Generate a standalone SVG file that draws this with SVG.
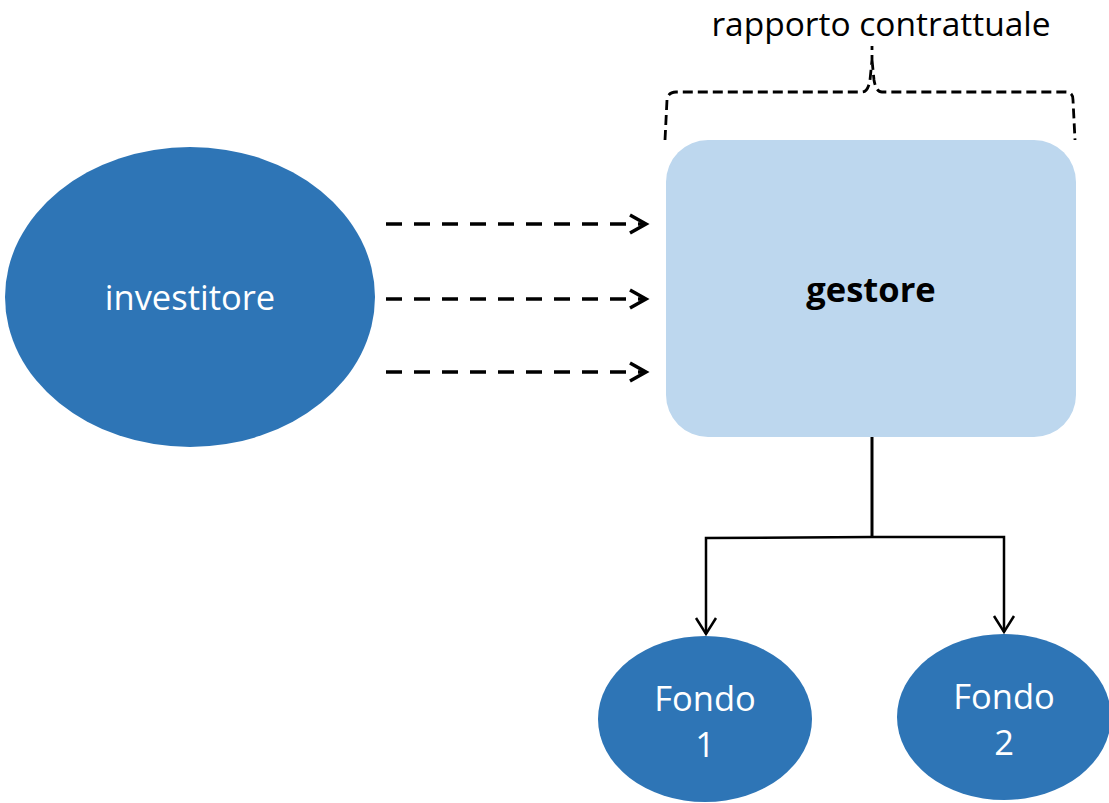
<svg xmlns="http://www.w3.org/2000/svg" width="1109" height="803" viewBox="0 0 1109 803">
<style>
.node{fill:#2e75b6}
.lbl{font-family:"Open Sans","Noto Sans",sans-serif;fill:#fff;text-anchor:middle}
.dash{stroke:#000;stroke-width:3.5;stroke-dasharray:16,12;fill:none}
.line{stroke:#000;stroke-width:2.5;fill:none}
</style>
<defs>
<marker id="chev" markerWidth="24" markerHeight="24" refX="20" refY="12" orient="auto" markerUnits="userSpaceOnUse">
<path d="M4,3 L20,12 L4,21" fill="none" stroke="#000" stroke-width="3.5" stroke-linejoin="miter"/>
</marker>
<marker id="chev2" markerWidth="24" markerHeight="24" refX="20" refY="12" orient="auto" markerUnits="userSpaceOnUse">
<path d="M4,2 L20,12 L4,22" fill="none" stroke="#000" stroke-width="2.5"/>
</marker>
</defs>
<g id="label-rapporto">
<text x="881" y="36" font-family="'Open Sans','Noto Sans',sans-serif" font-size="33.5" fill="#000" text-anchor="middle">rapporto contrattuale</text>
</g>
<g id="brace">
<path d="M665,140 L667,100 Q668,92 676,92 L862,92 Q868,92 870,80 L872,60 L872,46 M872,60 L874,80 Q876,92 882,92 L1066,92 Q1073,92 1073,100 L1075,140" fill="none" stroke="#000" stroke-width="2.8" stroke-dasharray="10,5"/>
</g>
<g id="investitore">
<ellipse class="node" cx="190" cy="297" rx="185" ry="150"/>
<text class="lbl" x="190" y="310" font-size="34.5">investitore</text>
</g>
<g id="gestore">
<rect x="666" y="140" width="410" height="297" rx="42" fill="#bdd7ee"/>
<text x="871" y="302" font-family="'Open Sans','Noto Sans',sans-serif" font-size="34.5" font-weight="bold" fill="#000" text-anchor="middle">gestore</text>
</g>
<g id="fondo1">
<ellipse class="node" cx="705" cy="719" rx="107" ry="83"/>
<text class="lbl" x="705" y="711" font-size="34.5">Fondo</text>
<text class="lbl" x="705" y="757" font-size="34.5">1</text>
</g>
<g id="fondo2">
<ellipse class="node" cx="1004" cy="717" rx="107" ry="83"/>
<text class="lbl" x="1004" y="709" font-size="34.5">Fondo</text>
<text class="lbl" x="1004" y="755" font-size="34.5">2</text>
</g>
<g id="connectors">
<line class="dash" x1="386" y1="224" x2="646" y2="224" marker-end="url(#chev)"/>
<line class="dash" x1="386" y1="299" x2="646" y2="299" marker-end="url(#chev)"/>
<line class="dash" x1="386" y1="372" x2="646" y2="372" marker-end="url(#chev)"/>
<path d="M872,437 L872,537" stroke="#000" stroke-width="3" fill="none"/>
<path class="line" d="M872,537 L706,538 L706,634" marker-end="url(#chev2)"/>
<path class="line" d="M872,537 L1004,537 L1004,632" marker-end="url(#chev2)"/>
</g>
</svg>
